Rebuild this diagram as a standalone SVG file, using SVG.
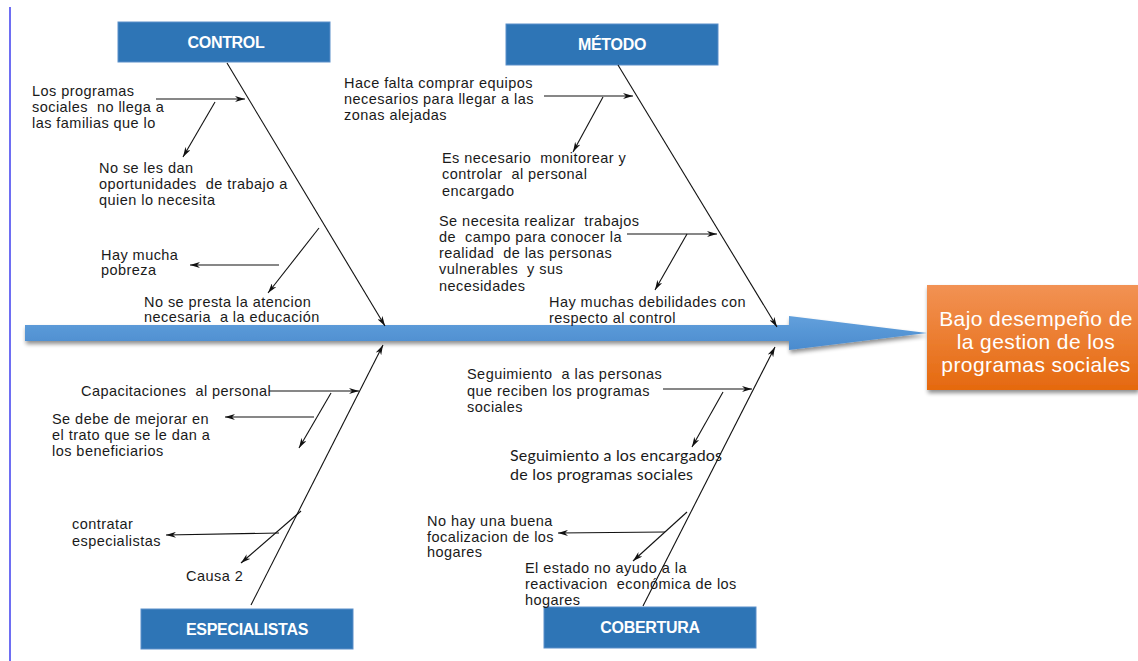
<svg xmlns="http://www.w3.org/2000/svg" width="1138" height="661" viewBox="0 0 1138 661">
<defs>
<style>
.t{font-family:"Liberation Sans",Arial,sans-serif;font-size:14.5px;letter-spacing:0.45px;fill:#1a1a1a;white-space:pre}
.c{font-family:Lato,"Open Sans",sans-serif;font-size:16px;fill:#1a1a1a}
.box{fill:#2E75B6;stroke:#5B8FC9;stroke-width:1}
.bt{font-family:"Liberation Sans",Arial,sans-serif;font-size:16px;font-weight:bold;fill:#fff;text-anchor:middle;letter-spacing:-0.3px}
.et{font-family:"Liberation Sans",Arial,sans-serif;font-size:21px;fill:#fff;text-anchor:middle;letter-spacing:0.4px}
.ln{stroke:#111;stroke-width:1.1;fill:none;marker-end:url(#ah)}
</style>
<marker id="ah" viewBox="0 0 10 6" refX="10" refY="3" markerWidth="10" markerHeight="6" orient="auto" markerUnits="userSpaceOnUse"><path d="M0,0 L10,3 L0,6 L3,3 z" fill="#111"/></marker>
<linearGradient id="gs" x1="0" y1="0" x2="0" y2="1"><stop offset="0" stop-color="#62A0DC"/><stop offset="1" stop-color="#4A8BCE"/></linearGradient>
<linearGradient id="go" x1="0" y1="0" x2="0" y2="1"><stop offset="0" stop-color="#F29254"/><stop offset="1" stop-color="#E5690E"/></linearGradient>
<filter id="sh" x="-5%" y="-50%" width="110%" height="200%"><feGaussianBlur in="SourceAlpha" stdDeviation="2"/><feOffset dx="1" dy="3" result="b"/><feComponentTransfer><feFuncA type="linear" slope="0.45"/></feComponentTransfer><feMerge><feMergeNode/><feMergeNode in="SourceGraphic"/></feMerge></filter>
</defs>
<rect width="1138" height="661" fill="#fff"/>
<line x1="10" y1="7" x2="10" y2="661" stroke="#4A4AF0" stroke-width="1.6"/>
<g id="spine"><polygon points="25,325 789,325 789,316 927,333 789,350 789,341 25,341" fill="url(#gs)" filter="url(#sh)"/></g>
<g id="effect"><rect x="927" y="285" width="211" height="105" fill="url(#go)" filter="url(#sh)"/><text class="et" x="1036" y="326">Bajo desempeño de</text><text class="et" x="1036" y="349">la gestion de los</text><text class="et" x="1036" y="372">programas sociales</text></g>
<g id="control"><rect class="box" x="118" y="22" width="212" height="40"/><text class="bt" x="226" y="48">CONTROL</text></g>
<g id="metodo"><rect class="box" x="506" y="24" width="212" height="41"/><text class="bt" x="612" y="50">MÉTODO</text></g>
<g id="especialistas"><rect class="box" x="141" y="609" width="212" height="40"/><text class="bt" x="247" y="635">ESPECIALISTAS</text></g>
<g id="cobertura"><rect class="box" x="544" y="607" width="212" height="41"/><text class="bt" x="650" y="633">COBERTURA</text></g>
<g id="connectors">
<path class="ln" d="M227,63 L385,326"/>
<path class="ln" d="M618,65 L777,327"/>
<path class="ln" d="M251,605 L383,345"/>
<path class="ln" d="M643,606 L775,347"/>
<path class="ln" d="M156,99 L245,99"/>
<path class="ln" d="M215,102 L183,157"/>
<path class="ln" d="M279,265 L190,265"/>
<path class="ln" d="M319,228 L268,293"/>
<path class="ln" d="M544,96 L633,96"/>
<path class="ln" d="M603,97 L573,152"/>
<path class="ln" d="M627,234 L717,234"/>
<path class="ln" d="M687,234 L655,290"/>
<path class="ln" d="M269,391 L359,391"/>
<path class="ln" d="M331,393 L299,448"/>
<path class="ln" d="M314,417 L225,417"/>
<path class="ln" d="M279,533 L166,535"/>
<path class="ln" d="M301,511 L241,563"/>
<path class="ln" d="M663,389 L752,389"/>
<path class="ln" d="M723,392 L692,447"/>
<path class="ln" d="M665,532 L558,533"/>
<path class="ln" d="M687,512 L633,561"/>
</g>
<g id="causes-control">
<text class="t" x="32" y="96">Los programas</text>
<text class="t" x="32" y="112">sociales  no llega a</text>
<text class="t" x="32" y="128">las familias que lo</text>
<text class="t" x="99" y="173">No se les dan</text>
<text class="t" x="99" y="189">oportunidades  de trabajo a</text>
<text class="t" x="99" y="205">quien lo necesita</text>
<text class="t" x="101" y="260">Hay mucha</text>
<text class="t" x="101" y="275">pobreza</text>
<text class="t" x="144" y="307">No se presta la atencion</text>
<text class="t" x="144" y="322">necesaria  a la educación</text>
</g>
<g id="causes-metodo">
<text class="t" x="344" y="88">Hace falta comprar equipos</text>
<text class="t" x="344" y="104">necesarios para llegar a las</text>
<text class="t" x="344" y="120">zonas alejadas</text>
<text class="t" x="442" y="163">Es necesario  monitorear y</text>
<text class="t" x="442" y="179">controlar  al personal</text>
<text class="t" x="442" y="196">encargado</text>
<text class="t" x="439" y="226">Se necesita realizar  trabajos</text>
<text class="t" x="439" y="242">de  campo para conocer la</text>
<text class="t" x="439" y="258">realidad  de las personas</text>
<text class="t" x="439" y="274">vulnerables  y sus</text>
<text class="t" x="439" y="291">necesidades</text>
<text class="t" x="549" y="307">Hay muchas debilidades con</text>
<text class="t" x="549" y="323">respecto al control</text>
</g>
<g id="causes-especialistas">
<text class="t" x="81" y="396">Capacitaciones  al personal</text>
<text class="t" x="52" y="424">Se debe de mejorar en</text>
<text class="t" x="52" y="440">el trato que se le dan a</text>
<text class="t" x="52" y="456">los beneficiarios</text>
<text class="t" x="72" y="529">contratar</text>
<text class="t" x="72" y="546">especialistas</text>
<text class="t" x="186" y="581">Causa 2</text>
</g>
<g id="causes-cobertura">
<text class="t" x="467" y="379">Seguimiento  a las personas</text>
<text class="t" x="467" y="396">que reciben los programas</text>
<text class="t" x="467" y="412">sociales</text>
<text class="c" x="510" y="461" textLength="212">Seguimiento a los encargados</text>
<text class="c" x="510" y="480" textLength="183">de los programas sociales</text>
<text class="t" x="427" y="526">No hay una buena</text>
<text class="t" x="427" y="542">focalizacion de los</text>
<text class="t" x="427" y="557">hogares</text>
<text class="t" x="525" y="573">El estado no ayudo a la</text>
<text class="t" x="525" y="589">reactivacion  económica de los</text>
<text class="t" x="525" y="605">hogares</text>
</g>
</svg>
